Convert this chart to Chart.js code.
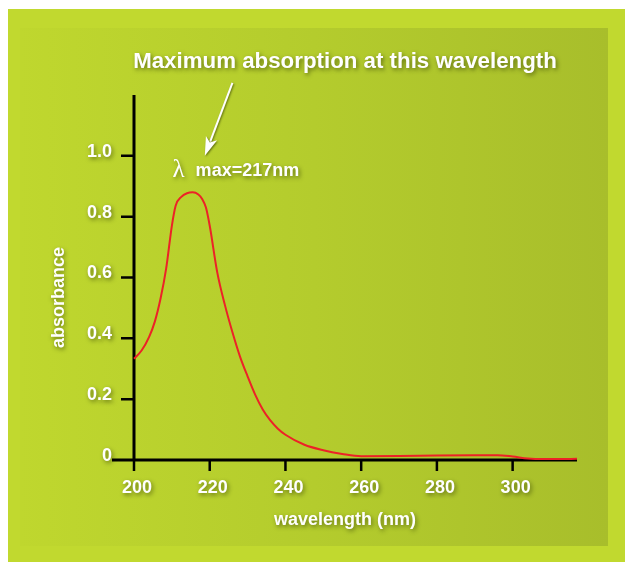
<!DOCTYPE html>
<html>
<head>
<meta charset="utf-8">
<script src="https://cdn.jsdelivr.net/npm/chart.js@4"></script>
<style>
  body { margin: 0; background: #fff; }
</style>
</head>
<body>
<canvas id="graph" width="625" height="562"></canvas>
<script>
// spectrum
const wavelengths = [200, 202, 204, 205.5, 207, 208.5, 210, 211, 212.5, 214, 215.5, 217, 218, 219, 220, 222, 224, 226, 228, 230, 232, 234, 236, 238, 240, 245, 250, 255, 260, 270, 280, 290, 296, 300, 304, 308, 312, 317];
const absorbance  = [0.333, 0.36, 0.405, 0.455, 0.53, 0.63, 0.77, 0.836, 0.865, 0.877, 0.88, 0.873, 0.858, 0.83, 0.77, 0.616, 0.51, 0.42, 0.34, 0.275, 0.215, 0.166, 0.13, 0.103, 0.083, 0.05, 0.032, 0.02, 0.0125, 0.013, 0.015, 0.016, 0.016, 0.0115, 0.005, 0.003, 0.003, 0.004];
const xTicks = [200, 220, 240, 260, 280, 300];
const yTicks = [0, 0.2, 0.4, 0.6, 0.8, 1.0];

const titleText = "Maximum absorption at this wavelength";
const xTitle = "wavelength (nm)";
const yTitle = "absorbance";
const peakLabel = "max=217nm";

const FONT = "'Liberation Sans', Arial, Helvetica, sans-serif";

function shadowOn(ctx) {
  ctx.shadowColor = 'rgba(45,55,0,0.6)';
  ctx.shadowBlur = 4;
  ctx.shadowOffsetX = 1.5;
  ctx.shadowOffsetY = 2;
}
function shadowOff(ctx) {
  ctx.shadowColor = 'rgba(0,0,0,0)';
  ctx.shadowBlur = 0;
  ctx.shadowOffsetX = 0;
  ctx.shadowOffsetY = 0;
}

const panelPlugin = {
  id: 'panel',
  beforeDraw(chart) {
    const ctx = chart.ctx;
    const w = chart.width, h = chart.height;
    ctx.save();
    ctx.fillStyle = '#ffffff';
    ctx.fillRect(0, 0, w, h);
    ctx.fillStyle = '#c1d92f';
    ctx.fillRect(8, 9, w - 8, h - 9);
    const g = ctx.createLinearGradient(20, 0, 608, 0);
    g.addColorStop(0, '#bfd72e');
    g.addColorStop(0.5, '#b4cc2d');
    g.addColorStop(1, '#a8be2b');
    ctx.fillStyle = g;
    ctx.fillRect(20, 28, 588, 518);
    ctx.restore();
    // tick labels get the soft text shadow
    shadowOn(ctx);
  },
  beforeDatasetsDraw(chart) {
    const ctx = chart.ctx;
    shadowOff(ctx);
    const xs = chart.scales.x, ys = chart.scales.y;
    const y0 = ys.getPixelForValue(0);
    const x0 = xs.getPixelForValue(200);
    ctx.save();
    ctx.strokeStyle = '#000';
    ctx.lineCap = 'butt';
    // axis lines
    ctx.lineWidth = 3;
    ctx.beginPath();
    ctx.moveTo(x0, ys.top);
    ctx.lineTo(x0, y0 + 1.5);
    ctx.moveTo(x0 - 22, y0);
    ctx.lineTo(xs.right, y0);
    ctx.stroke();
    // tick marks
    ctx.lineWidth = 2.5;
    ctx.beginPath();
    xTicks.forEach(v => {
      const p = xs.getPixelForValue(v);
      ctx.moveTo(p, y0);
      ctx.lineTo(p, y0 + 11);
    });
    yTicks.forEach(v => {
      if (v === 0) return;
      const p = ys.getPixelForValue(v);
      ctx.moveTo(x0 - 13, p);
      ctx.lineTo(x0, p);
    });
    ctx.stroke();
    ctx.restore();
  },
  afterDraw(chart) {
    const ctx = chart.ctx;
    const xs = chart.scales.x, ys = chart.scales.y;
    ctx.save();
    shadowOn(ctx);
    ctx.fillStyle = '#fff';

    ctx.font = 'bold 22.3px ' + FONT;
    ctx.textAlign = 'center';
    ctx.textBaseline = 'alphabetic';
    ctx.fillText(titleText, 345, 68);

    ctx.font = 'bold 18px ' + FONT;
    ctx.fillText(xTitle, 345, 525);

    ctx.save();
    ctx.translate(63.5, 297.5);
    ctx.rotate(-Math.PI / 2);
    ctx.fillText(yTitle, 0, 0);
    ctx.restore();

    // lambda max label
    const lx = xs.getPixelForValue(210.2), ly = ys.getPixelForValue(0.935);
    ctx.textAlign = 'left';
    ctx.font = '25px "Liberation Serif", "DejaVu Serif", serif';
    ctx.fillText('λ', lx, ly + 1);
    ctx.font = 'bold 18px ' + FONT;
    ctx.fillText(peakLabel, lx + 23, ly);

    // arrow
    const ax = xs.getPixelForValue(226), ay = ys.getPixelForValue(1.24);
    const bx = xs.getPixelForValue(218.7), by = ys.getPixelForValue(1.0);
    const dx = bx - ax, dy = by - ay, len = Math.hypot(dx, dy);
    const ux = dx / len, uy = dy / len;
    const hl = 19, hw = 6;
    ctx.shadowBlur = 2;
    ctx.shadowOffsetX = 1;
    ctx.shadowOffsetY = 1;
    ctx.strokeStyle = '#fff';
    ctx.lineWidth = 2;
    ctx.beginPath();
    ctx.moveTo(ax, ay);
    ctx.lineTo(bx - ux * hl * 0.8, by - uy * hl * 0.8);
    ctx.stroke();
    ctx.beginPath();
    ctx.moveTo(bx, by);
    ctx.lineTo(bx - ux * hl - uy * hw, by - uy * hl + ux * hw);
    ctx.lineTo(bx - ux * hl * 0.75, by - uy * hl * 0.75);
    ctx.lineTo(bx - ux * hl + uy * hw, by - uy * hl - ux * hw);
    ctx.closePath();
    ctx.fill();
    ctx.restore();
  }
};

const mychart = new Chart(document.getElementById('graph'), {
  type: 'line',
  data: {
    datasets: [{
      label: 'absorbance',
      data: wavelengths.map((w, i) => ({ x: w, y: absorbance[i] })),
      borderColor: '#ec2227',
      borderWidth: 2,
      pointRadius: 0,
      fill: false,
      cubicInterpolationMode: 'monotone',
      clip: false
    }]
  },
  options: {
    responsive: false,
    animation: false,
    layout: { padding: { left: 40, right: 48, top: 95, bottom: 32 } },
    plugins: { legend: { display: false }, tooltip: { enabled: false } },
    scales: {
      x: {
        type: 'linear',
        min: 200,
        max: 317,
        grid: { display: false, drawTicks: false },
        border: { display: false },
        afterBuildTicks: s => { s.ticks = xTicks.map(v => ({ value: v })); },
        afterFit: s => { s.height = 70; },
        ticks: {
          color: '#fff',
          padding: 17,
          labelOffset: 3,
          maxRotation: 0,
          font: { family: FONT, size: 18, weight: 'bold' },
          callback: v => String(v)
        }
      },
      y: {
        type: 'linear',
        min: 0,
        max: 1.2,
        grid: { display: false, drawTicks: false },
        border: { display: false },
        afterBuildTicks: s => { s.ticks = yTicks.map(v => ({ value: v })); },
        afterFit: s => { s.width = 94; },
        ticks: {
          color: '#fff',
          padding: 22,
          labelOffset: -4,
          font: { family: FONT, size: 18, weight: 'bold' },
          callback: v => v === 0 ? '0' : v.toFixed(1)
        }
      }
    }
  },
  plugins: [panelPlugin]
});
</script>
</body>
</html>
